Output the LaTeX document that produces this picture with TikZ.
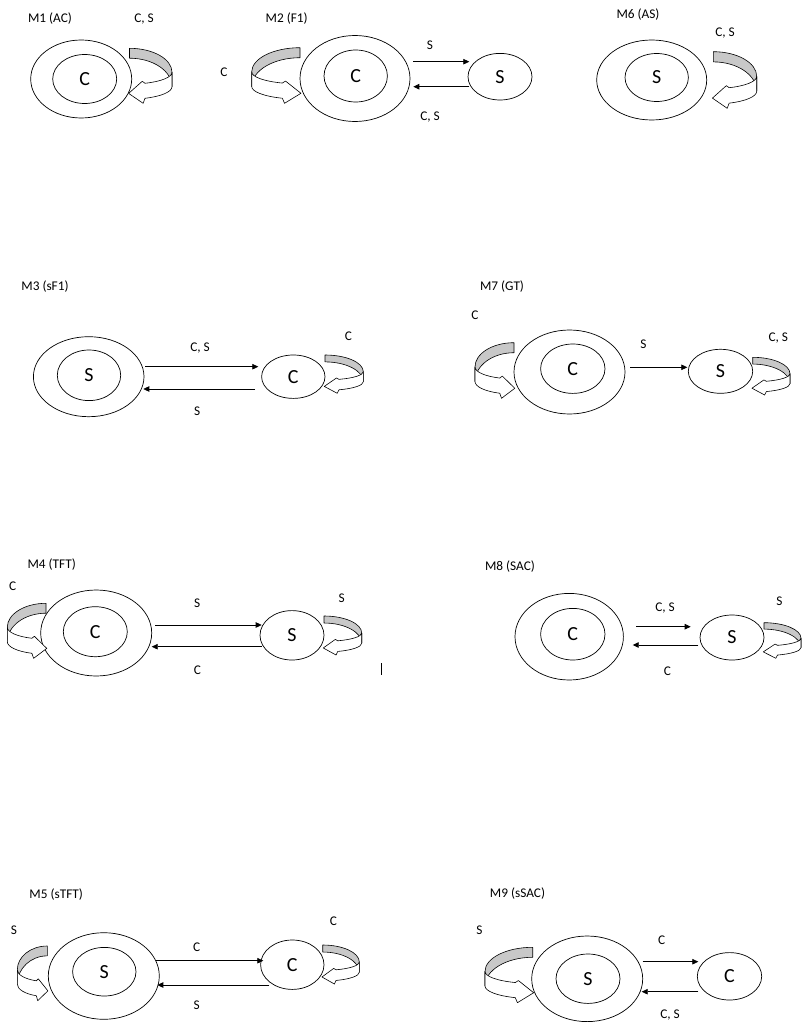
\documentclass[tikz,border=0pt]{standalone}
\usepackage{fontspec}
\setmainfont{Carlito}
\usetikzlibrary{shapes.geometric,arrows.meta,calc}
\definecolor{bandgray}{RGB}{200,200,200}
\newcommand\selfloop[5]{%
  \begin{scope}[shift={(#1,#2)},xscale=#5*#3,yscale=#4]
    \filldraw[loopback] (0,0) .. controls (0.5523,0) and (1,0.195) .. (1,0.436)
      -- (1,0.698) .. controls (1,0.412) and (0.5523,0.18) .. (0,0.18) -- cycle;
    \filldraw[loopfront] (1,0.436) .. controls (1,0.5245) and (0.748,0.604) .. (0.365,0.636)
      -- (0.30,0.60) -- (-0.02,0.82) -- (0.32,1.0) -- (0.365,0.909)
      .. controls (0.748,0.875) and (1,0.791) .. (1,0.698) -- cycle;
  \end{scope}}
\begin{document}
\begin{tikzpicture}[x=1pt,y=-1pt,
  ell/.style={ellipse,draw,line width=0.7pt,inner sep=0pt},
  big/.style={font=\fontsize{20}{24}\selectfont},
  lbl/.style={font=\fontsize{13.3}{16}\selectfont,inner sep=0pt},
  arr/.style={-{Triangle[length=6pt,width=5.5pt]},line width=0.8pt},
  loopback/.style={fill=bandgray,draw=black,line width=0.6pt,line join=round},
  loopfront/.style={fill=white,draw=black,line width=0.6pt,line join=round}]
\useasboundingbox (0,0) rectangle (801,1027);

% ---------- M1 ----------
\node[lbl] (t1) at (50,19) {M1 (AC)};
\node[lbl] (l1) at (144,19) {C, S};
\node[ell,minimum width=101,minimum height=78] (o1) at (81.2,79) {};
\node[ell,big,minimum width=64,minimum height=49] (i1) at (84.7,79) {C};
\selfloop{129.5}{48.3}{42.5}{55}{1}

% ---------- M2 ----------
\node[lbl] (t2) at (286.7,18.3) {M2 (F1)};
\node[lbl] (l2a) at (224,72) {C};
\node[ell,minimum width=110,minimum height=86] (o2) at (355,78.5) {};
\node[ell,big,minimum width=63.4,minimum height=52] (i2) at (355.7,76) {C};
\node[ell,big,minimum width=64,minimum height=46.6] (s2) at (500,76.7) {S};
\draw[arr] ($(o2)+(58.3,-16.8)$) -- ($(s2)+(-30.7,-15)$);
\draw[arr] ($(s2)+(-30.7,10)$) -- ($(o2)+(58.3,8.2)$);
\node[lbl] (l2b) at (430,45) {S};
\node[lbl] (l2c) at (430,116.7) {C, S};
\selfloop{300}{47.7}{48.3}{55.6}{-1}

% ---------- M6 ----------
\node[lbl] (t6) at (638,15) {M6 (AS)};
\node[lbl] (l6) at (725,33.3) {C, S};
\node[ell,minimum width=110,minimum height=80] (o6) at (651.7,80) {};
\node[ell,big,minimum width=63.4,minimum height=48] (i6) at (656.7,77.5) {S};
\selfloop{713.3}{51.7}{43.4}{56.6}{1}

% ---------- M3 ----------
\node[lbl] (t3) at (45,286.7) {M3 (sF1)};
\node[ell,minimum width=110.6,minimum height=80] (o3) at (88.7,376.7) {};
\node[ell,big,minimum width=63.4,minimum height=50.6] (i3) at (89,375.3) {S};
\node[ell,big,minimum width=63.4,minimum height=43.4] (c3) at (293.3,376.7) {C};
\draw[arr] ($(o3)+(56.3,-10)$) -- ($(c3)+(-35,-10)$);
\draw[arr] ($(c3)+(-38.3,12.3)$) -- ($(o3)+(54.6,12.3)$);
\node[lbl] (l3a) at (200,348.3) {C, S};
\node[lbl] (l3b) at (197.3,411.7) {S};
\node[lbl] (l3c) at (348.3,336.7) {C};
\selfloop{325}{355}{38.3}{38.3}{1}

% ---------- M7 ----------
\node[lbl] (t7) at (502,286.7) {M7 (GT)};
\node[lbl] (l7a) at (475,315) {C};
\node[ell,minimum width=111,minimum height=84] (o7) at (569.5,372) {};
\node[ell,big,minimum width=64.4,minimum height=49.4] (i7) at (572.8,368.7) {C};
\node[ell,big,minimum width=64.4,minimum height=44] (s7) at (720.5,371.3) {S};
\draw[arr] ($(o7)+(60.5,-4.7)$) -- ($(s7)+(-33.2,-4)$);
\node[lbl] (l7b) at (643.3,344) {S};
\node[lbl] (l7c) at (778.3,338.3) {C, S};
\selfloop{514}{342.7}{39}{55.6}{-1}
\selfloop{752.7}{357.3}{37.3}{37.7}{1}

% ---------- M4 ----------
\node[lbl] (t4) at (51.7,565) {M4 (TFT)};
\node[lbl] (l4a) at (12.7,586) {C};
\node[ell,minimum width=111,minimum height=86] (o4) at (96.2,633) {};
\node[ell,big,minimum width=64,minimum height=50] (i4) at (95.3,631.7) {C};
\node[ell,big,minimum width=64,minimum height=49.4] (s4) at (292,635.3) {S};
\draw[arr] ($(o4)+(58.8,-8)$) -- ($(s4)+(-30.3,-10.3)$);
\draw[arr] ($(s4)+(-30.3,11.4)$) -- ($(o4)+(55.5,13.7)$);
\node[lbl] (l4b) at (197.3,603.3) {S};
\node[lbl] (l4c) at (197.3,670) {C};
\node[lbl] (l4d) at (341.7,598.3) {S};
\selfloop{46}{603.3}{38.7}{55}{-1}
\selfloop{324}{616}{37.7}{39}{1}
\draw[line width=0.7pt] (381.7,663) -- (381.7,675);

% ---------- M8 ----------
\node[lbl] (t8) at (510,566.7) {M8 (SAC)};
\node[ell,minimum width=108.4,minimum height=86.6] (o8) at (569.2,636.7) {};
\node[ell,big,minimum width=64.4,minimum height=51.6] (i8) at (572.8,634.2) {C};
\node[ell,big,minimum width=64,minimum height=45] (s8) at (732,637.5) {S};
\draw[arr] ($(o8)+(66.8,-10)$) -- ($(s8)+(-41.3,-10.8)$);
\draw[arr] ($(s8)+(-33.7,7.5)$) -- ($(o8)+(63.5,8.3)$);
\node[lbl] (l8a) at (665,608.3) {C, S};
\node[lbl] (l8b) at (667.3,671.7) {C};
\node[lbl] (l8c) at (779.3,601.7) {S};
\selfloop{764}{622.7}{37}{35.6}{1}

% ---------- M5 ----------
\node[lbl] (t5) at (56.2,895) {M5 (sTFT)};
\node[lbl] (l5a) at (14,930.7) {S};
\node[ell,minimum width=111,minimum height=86.6] (o5) at (103.8,976) {};
\node[ell,big,minimum width=63.4,minimum height=48.6] (i5) at (104.3,971.7) {S};
\node[ell,big,minimum width=63.4,minimum height=49.4] (c5) at (292.3,964.7) {C};
\draw[arr] ($(o5)+(52.2,-15.3)$) -- ($(c5)+(-29,-4)$);
\draw[arr] ($(c5)+(-23,20.3)$) -- ($(o5)+(53.5,9)$);
\node[lbl] (l5b) at (196.7,947.3) {C};
\node[lbl] (l5c) at (196.7,1005) {S};
\node[lbl] (l5d) at (333.3,921.7) {C};
\selfloop{47.3}{946}{30}{54.7}{-1}
\selfloop{322.7}{945}{36.6}{39}{1}

% ---------- M9 ----------
\node[lbl] (t9) at (517.5,894) {M9 (sSAC)};
\node[lbl] (l9a) at (479.3,930.7) {S};
\node[ell,minimum width=111,minimum height=85.6] (o9) at (587.2,978.8) {};
\node[ell,big,minimum width=64,minimum height=49.4] (i9) at (588,978.7) {S};
\node[ell,big,minimum width=64.4,minimum height=47.4] (c9) at (729.5,976.3) {C};
\draw[arr] ($(o9)+(55.5,-17.1)$) -- ($(c9)+(-31.2,-14.6)$);
\draw[arr] ($(c9)+(-31.2,15.4)$) -- ($(o9)+(54.5,12.9)$);
\node[lbl] (l9b) at (661.7,940) {C};
\node[lbl] (l9c) at (670,1015) {C, S};
\selfloop{532.7}{947.3}{47.7}{55.4}{-1}
\end{tikzpicture}
\end{document}
